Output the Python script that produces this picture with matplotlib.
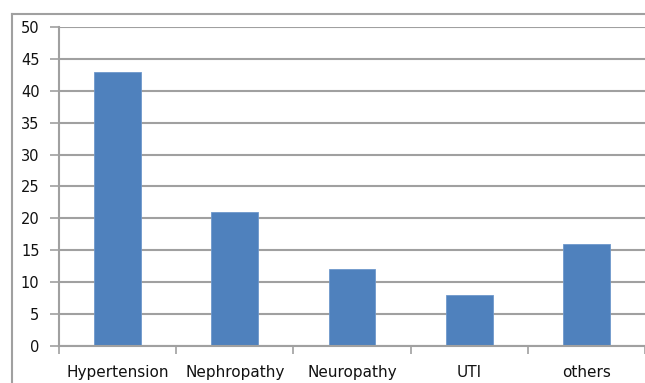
import matplotlib
matplotlib.use('Agg')
import matplotlib.pyplot as plt
from matplotlib import font_manager
from matplotlib.lines import Line2D

categories = ['Hypertension', 'Nephropathy', 'Neuropathy', 'UTI', 'others']
values = [43, 21, 12, 8, 16]
yticks = [0, 5, 10, 15, 20, 25, 30, 35, 40, 45, 50]

grid_col = '#a0a0a0'
bar_col = '#4f81bd'

# narrow face for the category names if one is installed
installed = {f.name for f in font_manager.fontManager.ttflist}
cat_font, cat_size = 'DejaVu Sans', 11
for name, size in [('Liberation Sans Narrow', 14), ('DejaVu Sans Condensed', 12)]:
    if name in installed:
        cat_font, cat_size = name, size
        break

fig = plt.figure(figsize=(6.45, 3.83), dpi=100)
ax = fig.add_axes([59 / 645, 1 - 346 / 383, 1 - 59 / 645, (346 - 27) / 383])

x = list(range(len(categories)))
ax.bar(x, values, width=0.4, color=bar_col, edgecolor='#6e98cc', linewidth=0.6, zorder=3)

ax.set_xlim(-0.5, len(categories) - 0.5)
ax.set_ylim(0, 50)
ax.set_yticks(yticks)
ax.set_yticklabels([str(v) for v in yticks])
ax.yaxis.grid(True, color=grid_col, linewidth=1.5, zorder=0)

# category ticks sit on the boundaries between groups
ax.set_xticks([i - 0.5 for i in range(len(categories) + 1)])
ax.set_xticklabels([])
ax.set_xticks(x, minor=True)
ax.set_xticklabels(categories, minor=True)
ax.tick_params(axis='x', which='minor', length=0, pad=14, labelsize=cat_size)
ax.tick_params(axis='x', which='major', length=6, color=grid_col, width=1.2)
ax.tick_params(axis='y', length=6.5, color=grid_col, width=1.2, pad=7.5, labelsize=10.5)

for side in ['top', 'right']:
    ax.spines[side].set_visible(False)
for side in ['left', 'bottom']:
    ax.spines[side].set_color(grid_col)
    ax.spines[side].set_linewidth(1.5)
    ax.spines[side].set_zorder(4)

for lab in ax.get_xticklabels(minor=True):
    lab.set_family(cat_font)
    lab.set_color('#111111')
for lab in ax.get_yticklabels():
    lab.set_family('DejaVu Sans')
    lab.set_color('#111111')

# outer chart frame
fig.add_artist(Line2D([12 / 645, 12 / 645], [0, 1 - 14 / 383], color=grid_col, linewidth=1.5))
fig.add_artist(Line2D([12 / 645, 1], [1 - 14 / 383, 1 - 14 / 383], color=grid_col, linewidth=1.5))

fig.savefig('out.png', dpi=100)
